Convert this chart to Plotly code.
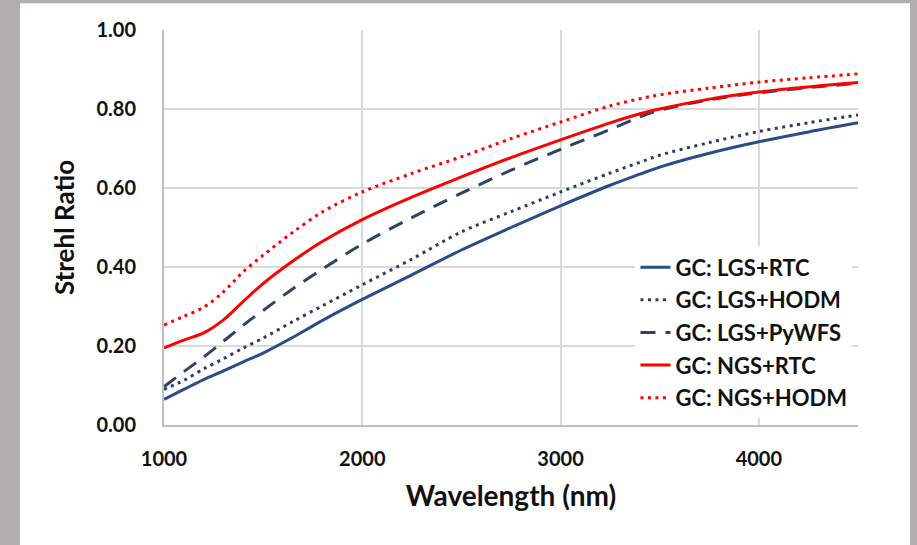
import plotly.graph_objects as go

wavelength = [1000, 1100, 1200, 1300, 1400, 1500, 1650, 1800, 2000, 2250, 2500, 2750, 3000, 3250, 3400, 3500, 3750, 4000, 4250, 4500]

lgs_rtc   = [0.065, 0.090, 0.115, 0.137, 0.160, 0.182, 0.222, 0.265, 0.318, 0.380, 0.443, 0.500, 0.555, 0.607, 0.635, 0.653, 0.688, 0.717, 0.742, 0.765]
lgs_hodm  = [0.090, 0.113, 0.142, 0.168, 0.195, 0.220, 0.262, 0.302, 0.355, 0.420, 0.489, 0.540, 0.590, 0.638, 0.665, 0.683, 0.715, 0.743, 0.765, 0.785]
lgs_pywfs = [0.097, 0.135, 0.172, 0.212, 0.253, 0.290, 0.345, 0.395, 0.458, 0.525, 0.587, 0.645, 0.698, 0.748, 0.780, 0.797, 0.823, 0.841, 0.854, 0.865]
ngs_rtc   = [0.195, 0.215, 0.233, 0.266, 0.313, 0.358, 0.415, 0.465, 0.520, 0.577, 0.628, 0.677, 0.722, 0.765, 0.788, 0.800, 0.825, 0.843, 0.856, 0.867]
ngs_hodm  = [0.253, 0.275, 0.298, 0.337, 0.388, 0.430, 0.488, 0.540, 0.590, 0.637, 0.679, 0.725, 0.767, 0.808, 0.826, 0.836, 0.853, 0.868, 0.879, 0.889]

series_names = ["GC: LGS+RTC", "GC: LGS+HODM", "GC: LGS+PyWFS", "GC: NGS+RTC", "GC: NGS+HODM"]
series_values = [lgs_rtc, lgs_hodm, lgs_pywfs, ngs_rtc, ngs_hodm]
series_colors = ["#2B4C8C", "#2C3D63", "#2A4566", "#FF0000", "#FF0000"]
series_dash = ["solid", "3px,4.5px", "15px,10px", "solid", "3px,4.5px"]

x_ticks = [1000, 2000, 3000, 4000]
y_ticks = [0.0, 0.2, 0.4, 0.6, 0.8, 1.0]

FONT = "Lato"
TXT = "#111111"

fig = go.Figure()
for name, vals, col, dash in zip(series_names, series_values, series_colors, series_dash):
    fig.add_trace(go.Scatter(
        x=wavelength, y=vals, mode="lines", name=name,
        line=dict(color=col, width=3, dash=dash, shape="spline", smoothing=0.9),
        legendgroup=name,
    ))

# white card on grey surround
fig.add_shape(type="rect", xref="paper", yref="paper", x0=-0.2075, x1=1.075, y0=-0.31, y1=1.068,
              fillcolor="white", line=dict(width=0), layer="below")

fig.update_layout(
    width=917, height=545,
    margin=dict(l=164, r=59, t=30, b=120),
    paper_bgcolor="#B3AEAE",
    plot_bgcolor="white",
    font=dict(family=FONT, color=TXT),
    showlegend=True,
    legend=dict(
        x=0.992, xanchor="right", y=0.452, yanchor="top",
        bgcolor="white", borderwidth=0,
        font=dict(family=FONT, size=22, color=TXT, weight="bold"),
        traceorder="grouped", tracegroupgap=1,
    ),
    xaxis=dict(
        range=[1000, 4500], tickvals=x_ticks, ticktext=[str(v) for v in x_ticks],
        showgrid=True, gridcolor="#D9D9D9", gridwidth=1.5,
        showline=True, linecolor="#BFBFBF", linewidth=2,
        zeroline=False, ticks="", ticklabelstandoff=15,
        tickfont=dict(family=FONT, size=20, color=TXT, weight="bold"),
        title=dict(text="Wavelength (nm)", standoff=17,
                   font=dict(family=FONT, size=28, color=TXT, weight="bold")),
    ),
    yaxis=dict(
        range=[0, 1.0], tickvals=y_ticks, ticktext=[f"{v:.2f}" for v in y_ticks],
        showgrid=True, gridcolor="#D9D9D9", gridwidth=1.5,
        showline=True, linecolor="#BFBFBF", linewidth=2,
        zeroline=False, ticks="", ticklabelstandoff=22,
        tickfont=dict(family=FONT, size=20, color=TXT, weight="bold"),
        title=dict(text="Strehl Ratio", standoff=14,
                   font=dict(family=FONT, size=26, color=TXT, weight="bold")),
    ),
)

fig.write_html("out.html")
